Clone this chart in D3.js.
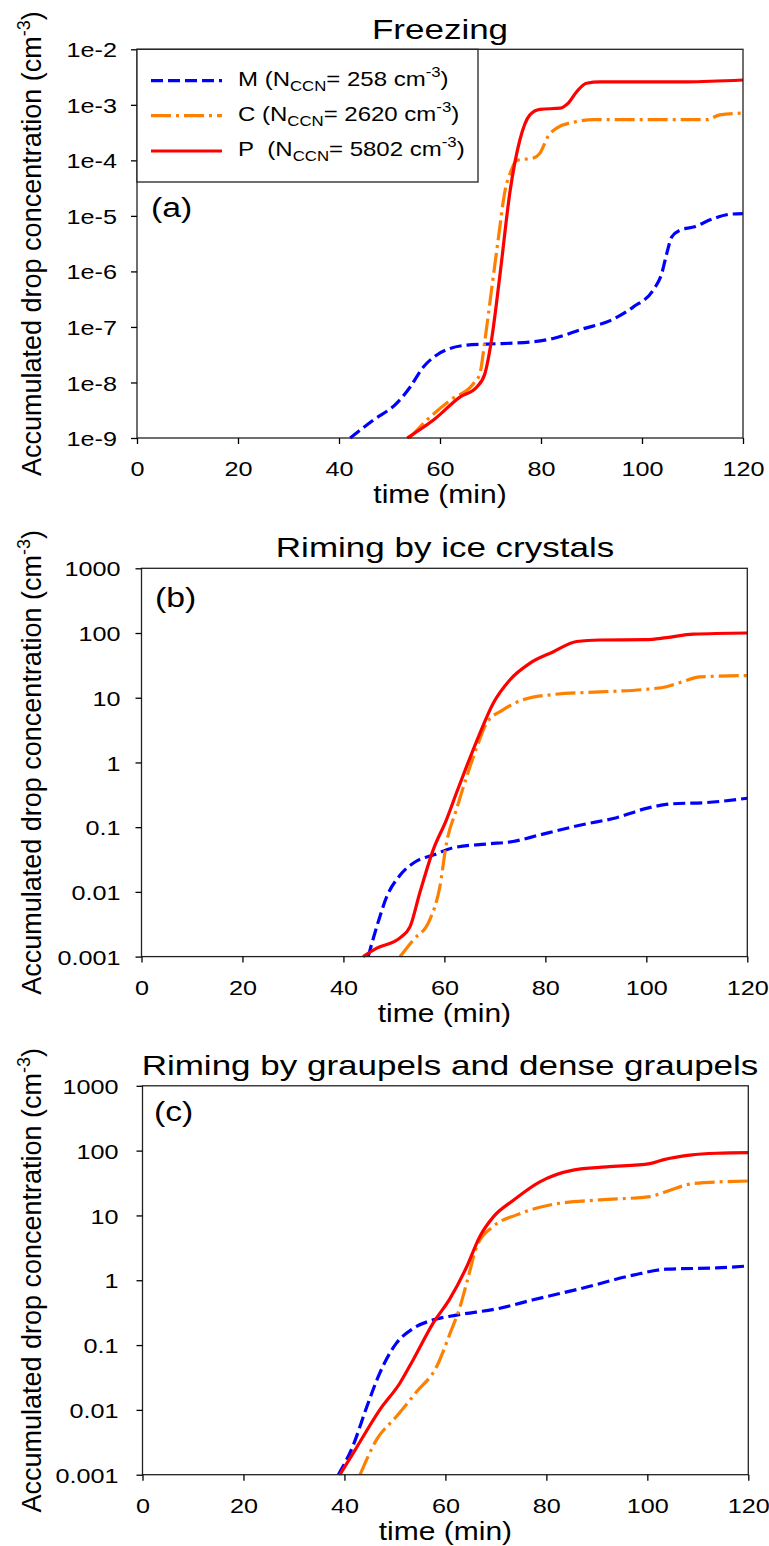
<!DOCTYPE html>
<html><head><meta charset="utf-8">
<script src="https://cdn.jsdelivr.net/npm/d3@7"></script>
<style>
body{margin:0;background:#fff}
svg{display:block}
text{font-family:"Liberation Sans",Arial,sans-serif;fill:#000}
</style>
</head><body>
<svg id="chart" width="769" height="1546"></svg>
<script>
// ---------- DATA ----------
const xTicks = [0, 20, 40, 60, 80, 100, 120];
const yTicksA = [1e-9, 1e-8, 1e-7, 1e-6, 1e-5, 1e-4, 1e-3, 1e-2];
const yLabelsA = ["1e-9", "1e-8", "1e-7", "1e-6", "1e-5", "1e-4", "1e-3", "1e-2"];
const yTicksBC = [0.001, 0.01, 0.1, 1, 10, 100, 1000];
const yLabelsBC = ["0.001", "0.01", "0.1", "1", "10", "100", "1000"];
const titles = ["Freezing", "Riming by ice crystals", "Riming by graupels and dense graupels"];
const panelTags = ["(a)", "(b)", "(c)"];
const seriesNames = ["M", "C", "P"];
const seriesNccn = ["258", "2620", "5802"];

// Panel (a) Freezing
const tA_M = [42.2, 46.8, 51.4, 54.1, 56.7, 59.3, 62.0, 65.3, 69.2, 78.5, 82.4, 88.4, 93.7, 98.3, 102.2, 103.9, 104.9, 105.9, 107.5, 110.2, 114.1, 117.4, 120];
const vA_M = [1.0e-9, 2.1e-9, 4.2e-9, 8.3e-9, 1.9e-8, 3.1e-8, 4.1e-8, 4.7e-8, 4.9e-8, 5.4e-8, 6.2e-8, 9.3e-8, 1.3e-7, 2.3e-7, 4.6e-7, 9.1e-7, 2.1e-6, 4.2e-6, 5.5e-6, 6.3e-6, 8.9e-6, 1.07e-5, 1.1e-5];
const tA_C = [54.0, 57.4, 62.0, 66.6, 67.9, 68.9, 70.2, 71.5, 72.9, 73.9, 75.2, 78.5, 79.8, 81.4, 83.1, 87.1, 90.4, 112.8, 115.4, 120];
const vA_C = [1.0e-9, 2.1e-9, 4.8e-9, 9.5e-9, 1.45e-8, 5.8e-8, 4.6e-7, 3.6e-6, 2.9e-5, 5.9e-5, 1.0e-4, 1.1e-4, 1.35e-4, 2.7e-4, 3.8e-4, 5.0e-4, 5.4e-4, 5.4e-4, 6.6e-4, 7.1e-4];
const tA_P = [53.5, 58.7, 64.0, 67.3, 68.9, 70.2, 71.9, 73.9, 75.8, 77.8, 79.8, 83.8, 85.4, 87.1, 89.0, 91.7, 108.8, 120];
const vA_P = [1.0e-9, 2.1e-9, 5.5e-9, 8.3e-9, 1.45e-8, 5.8e-8, 9.1e-7, 2.9e-5, 2.3e-4, 6.6e-4, 8.3e-4, 8.7e-4, 1.07e-3, 1.74e-3, 2.45e-3, 2.6e-3, 2.6e-3, 2.8e-3];

// Panel (b) Riming by ice crystals
const tB_M = [44.9, 46.6, 48.6, 51.2, 54.5, 57.8, 61.7, 68.4, 73.6, 78.9, 87.5, 94.1, 100.0, 105.3, 111.9, 120];
const vB_M = [0.001, 0.0029, 0.0085, 0.018, 0.03, 0.037, 0.048, 0.055, 0.06, 0.076, 0.11, 0.14, 0.195, 0.23, 0.24, 0.28];
const tB_C = [51.2, 53.8, 57.1, 59.1, 60.4, 62.4, 64.4, 66.4, 68.4, 71.6, 75.6, 81.5, 90.8, 100.0, 104.0, 107.3, 110.6, 120];
const vB_C = [0.001, 0.0018, 0.0037, 0.012, 0.056, 0.19, 0.6, 1.7, 4.1, 6.5, 9.3, 11.2, 12.3, 13.5, 14.8, 17.8, 21, 22];
const tB_P = [43.9, 46.6, 51.2, 53.2, 55.1, 57.8, 60.4, 62.4, 64.4, 67.0, 69.7, 73.0, 76.9, 81.5, 86.2, 90.8, 100.0, 104.0, 109.3, 120];
const vB_P = [0.001, 0.00135, 0.00195, 0.0029, 0.0095, 0.045, 0.13, 0.34, 0.87, 2.8, 8.3, 19, 34, 51, 74, 78, 79, 85, 96, 100];

// Panel (c) Riming by graupels and dense graupels
const tC_M = [38.8, 41.7, 44.4, 47.0, 50.3, 53.6, 57.6, 62.2, 70.8, 77.4, 87.3, 97.2, 103.8, 113.7, 120];
const vC_M = [0.001, 0.0028, 0.011, 0.037, 0.107, 0.18, 0.245, 0.29, 0.37, 0.5, 0.76, 1.2, 1.48, 1.55, 1.66];
const tC_C = [43.1, 46.4, 50.3, 54.3, 58.3, 60.9, 62.9, 64.5, 66.2, 69.5, 74.1, 80.7, 90.6, 100.5, 103.8, 109.1, 120];
const vC_C = [0.001, 0.0035, 0.0079, 0.019, 0.047, 0.15, 0.39, 1.1, 3.3, 6.8, 10.2, 14.5, 17.4, 19.5, 23.4, 31, 34];
const tC_P = [39.1, 42.1, 47.0, 51.0, 53.6, 57.6, 60.9, 64.2, 66.8, 69.5, 73.4, 78.7, 85.3, 91.9, 100.5, 103.1, 108.4, 113.7, 120];
const vC_P = [0.001, 0.0024, 0.01, 0.026, 0.059, 0.22, 0.52, 1.6, 4.7, 9.5, 17, 33, 50, 56, 63, 72, 85, 91, 93];

// ---------- LAYOUT / STYLE ----------
const colors = ["#0000ff", "#ff8000", "#ff0000"];
const dashes = ["12,5", "20,5,3,5", null];
const FONT = '"Liberation Sans", Arial, sans-serif';

const panels = [
  {x0: 137, x1: 743, yTop: 49.3, yBot: 438, dom: [1e-9, 1e-2], ticks: yTicksA, labels: yLabelsA, gap: 20,
   titleX: 440, titleY: 39, tagX: 151, tagY: 217,
   series: [[tA_M, vA_M], [tA_C, vA_C], [tA_P, vA_P]]},
  {x0: 141.5, x1: 747.3, yTop: 568.3, yBot: 956.6, dom: [1e-3, 1e3], ticks: yTicksBC, labels: yLabelsBC, gap: 21,
   titleX: 445, titleY: 556.5, tagX: 155, tagY: 607,
   series: [[tB_M, vB_M], [tB_C, vB_C], [tB_P, vB_P]]},
  {x0: 142.5, x1: 748.3, yTop: 1085.8, yBot: 1474.7, dom: [1e-3, 1e3], ticks: yTicksBC, labels: yLabelsBC, gap: 24,
   titleX: 450, titleY: 1075, tagX: 154, tagY: 1121,
   series: [[tC_M, vC_M], [tC_C, vC_C], [tC_P, vC_P]]}
];

const svg = d3.select('#chart');
svg.append('rect').attr('width', 769).attr('height', 1546).attr('fill', '#fff');

function stext(parent, x, y, sx, size, anchor) {
  return parent.append('text')
    .attr('transform', `translate(${x},${y}) scale(${sx},1)`)
    .attr('font-size', size)
    .attr('text-anchor', anchor);
}

panels.forEach((p, pi) => {
  const x = d3.scaleLinear().domain([0, 120]).range([p.x0, p.x1]);
  const y = d3.scaleLog().domain(p.dom).range([p.yBot, p.yTop]);
  const g = svg.append('g');

  // series lines
  const line = d3.line().x(d => x(d[0])).y(d => y(d[1])).curve(d3.curveMonotoneX);
  p.series.forEach((s, si) => {
    const pts = s[0].map((t, i) => [t, s[1][i]]);
    const path = g.append('path').datum(pts)
      .attr('d', line)
      .attr('fill', 'none')
      .attr('stroke', colors[si])
      .attr('stroke-width', 3.2)
      .attr('stroke-linejoin', 'round');
    if (dashes[si]) path.attr('stroke-dasharray', dashes[si]);
  });

  // frame
  g.append('rect')
    .attr('x', p.x0).attr('y', p.yTop)
    .attr('width', p.x1 - p.x0).attr('height', p.yBot - p.yTop)
    .attr('fill', 'none').attr('stroke', '#222').attr('stroke-width', 1.3);

  // y axis
  const ya = d3.axisLeft(y).tickValues(p.ticks).tickFormat((d, i) => p.labels[i]).tickSize(6).tickSizeOuter(0);
  const gy = g.append('g').attr('transform', `translate(${p.x0},0)`).call(ya)
    .attr('font-size', 21).attr('font-family', FONT);
  gy.select('.domain').remove();
  gy.selectAll('.tick line').attr('stroke', '#000').attr('stroke-width', 1.3);
  gy.selectAll('.tick text').attr('x', 0).attr('dy', '0.36em')
    .attr('transform', `translate(${-p.gap},0) scale(1.2,1)`).attr('fill', '#000');

  // x axis
  const xa = d3.axisBottom(x).tickValues(xTicks).tickFormat(d3.format('d')).tickSize(6).tickSizeOuter(0);
  const gx = g.append('g').attr('transform', `translate(0,${p.yBot})`).call(xa)
    .attr('font-size', 21).attr('font-family', FONT);
  gx.select('.domain').remove();
  gx.selectAll('.tick line').attr('stroke', '#000').attr('stroke-width', 1.3);
  gx.selectAll('.tick text').attr('y', 0).attr('dy', null)
    .attr('transform', 'translate(0,38) scale(1.2,1)').attr('fill', '#000');

  // x title
  stext(g, (p.x0 + p.x1) / 2, p.yBot + 65, 1.2, 25, 'middle').text('time (min)');

  // y title (rotated)
  const cy = (p.yTop + p.yBot) / 2;
  const yt = g.append('text')
    .attr('transform', `translate(41,${cy}) rotate(-90)`)
    .attr('font-size', 27).attr('text-anchor', 'middle');
  yt.append('tspan').text('Accumulated drop concentration (cm');
  yt.append('tspan').attr('font-size', 18).attr('dy', -11).text('-3');
  yt.append('tspan').attr('dy', 11).text(')');

  // panel title
  stext(g, p.titleX, p.titleY, 1.25, 28, 'middle').text(titles[pi]);

  // panel tag
  stext(g, p.tagX, p.tagY, 1.25, 27, 'start').text(panelTags[pi]);

  // legend (panel a only)
  if (pi === 0) {
    const lg = g.append('g');
    lg.append('rect').attr('x', p.x0).attr('y', p.yTop).attr('width', 478 - p.x0).attr('height', 182 - p.yTop)
      .attr('fill', '#fff').attr('stroke', '#222').attr('stroke-width', 1.3);
    const rowsY = [80.7, 115.7, 151];
    seriesNames.forEach((nm, si) => {
      const ly = lg.append('line').attr('x1', 151).attr('x2', 222).attr('y1', rowsY[si]).attr('y2', rowsY[si])
        .attr('stroke', colors[si]).attr('stroke-width', 3.2);
      if (dashes[si]) ly.attr('stroke-dasharray', dashes[si]);
      const t = stext(lg, 238, rowsY[si] + 5, 1.2, 20, 'start');
      t.append('tspan').text(nm + (si === 2 ? '\u00a0\u00a0(N' : ' (N'));
      t.append('tspan').attr('font-size', 14).attr('dy', 5).text('CCN');
      t.append('tspan').attr('dy', -5).text('= ' + seriesNccn[si] + ' cm');
      t.append('tspan').attr('font-size', 14).attr('dy', -9).text('-3');
      t.append('tspan').attr('dy', 9).text(')');
    });
  }
});
</script>
</body></html>
